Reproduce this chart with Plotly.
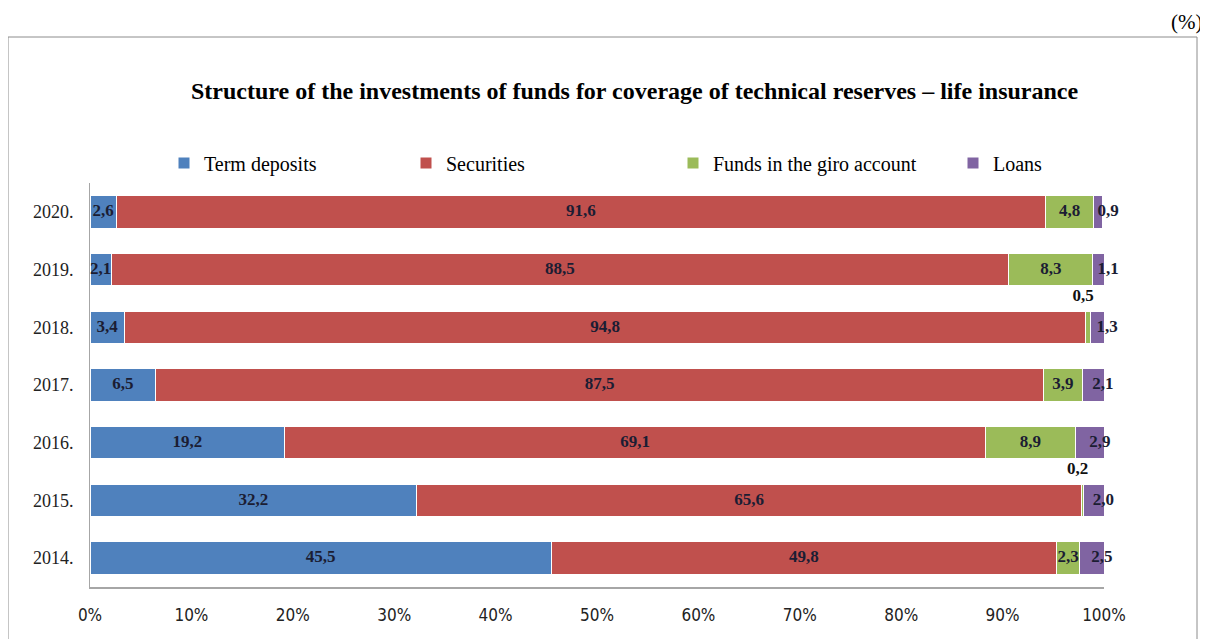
import plotly.graph_objects as go

years = ["2014.", "2015.", "2016.", "2017.", "2018.", "2019.", "2020."]
term_deposits = [45.5, 32.2, 19.2, 6.5, 3.4, 2.1, 2.6]
securities = [49.8, 65.6, 69.1, 87.5, 94.8, 88.5, 91.6]
giro_funds = [2.3, 0.2, 8.9, 3.9, 0.5, 8.3, 4.8]
loans = [2.5, 2.0, 2.9, 2.1, 1.3, 1.1, 0.9]

series_names = ["Term deposits", "Securities", "Funds in the giro account", "Loans"]
series_values = [term_deposits, securities, giro_funds, loans]
colors = ["#4f81bd", "#c0504d", "#9bbb59", "#8064a2"]
tick_vals = [0, 10, 20, 30, 40, 50, 60, 70, 80, 90, 100]
tick_text = [f"{v}%" for v in tick_vals]

OFF = 8  # page body margin
W, H = 1200, 631
L, R, T, B = 90 - OFF, 104, 183 - OFF, 52
pw, ph = W - L - R, H - T - B


def px2paper(px, py):
    fx, fy = px - OFF, py - OFF
    return (fx - L) / pw, (H - B - fy) / ph


fig = go.Figure()
legend_ids = ["legend", "legend2", "legend3", "legend4"]
for name, vals, col, lg in zip(series_names, series_values, colors, legend_ids):
    fig.add_trace(go.Bar(
        y=years, x=vals, name=name, orientation="h",
        marker=dict(color=col, line=dict(color="white", width=1)),
        legend=lg,
    ))

# value labels as text traces
lab_font = "Liberation Serif, Times New Roman, serif"
cum = [0.0] * len(years)
for si, vals in enumerate(series_values):
    xs_in, ys_in, tx_in = [], [], []
    xs_up, ys_up, tx_up = [], [], []
    for i, v in enumerate(vals):
        mid = cum[i] + v / 2
        cum[i] += v
        t = "<b>" + f"{v:.1f}".replace(".", ",") + "</b>"
        if v < 0.8:
            xs_up.append(mid - 0.5)
            ys_up.append(years[i])
            tx_up.append(t + "<br> ")
        elif si == 3:
            xs_in.append(mid - 0.1)
            ys_in.append(years[i])
            tx_in.append(t)
        else:
            xs_in.append(mid)
            ys_in.append(years[i])
            tx_in.append(t)
    fig.add_trace(go.Scatter(x=xs_in, y=ys_in, text=tx_in, mode="text",
                             textposition="middle right" if si == 3 else "middle center",
                             showlegend=False, hoverinfo="skip", cliponaxis=False,
                             textfont=dict(family=lab_font, size=17, color="#1b1d33")))
    if xs_up:
        fig.add_trace(go.Scatter(x=xs_up, y=ys_up, text=tx_up, mode="text",
                                 textposition="top center", showlegend=False, hoverinfo="skip",
                                 cliponaxis=False,
                                 textfont=dict(family=lab_font, size=17, color="#111111")))

annotations = []
tx, ty = px2paper(635, 91)
annotations.append(dict(
    text="<b>Structure of the investments of funds for coverage of technical reserves – life insurance</b>",
    x=tx, y=ty, xref="paper", yref="paper",
    xanchor="center", yanchor="middle", showarrow=False,
    font=dict(family=lab_font, size=24, color="black"),
))
px_, py_ = px2paper(1204, 22)
annotations.append(dict(
    text="(%)", x=px_, y=py_, xref="paper", yref="paper",
    xanchor="right", yanchor="middle", showarrow=False,
    font=dict(family=lab_font, size=21, color="black"),
))

x0, y1 = px2paper(8, 37)
x1, y0 = px2paper(1197, 650)
shapes = [dict(type="rect", xref="paper", yref="paper", x0=x0, x1=x1, y0=y0, y1=y1,
               line=dict(color="#8c8c8c", width=1), fillcolor="rgba(0,0,0,0)", layer="below")]

legend_text_x = [204, 446, 713, 993]
layout_legends = {}
for lg, tx_ in zip(legend_ids, legend_text_x):
    layout_legends[lg] = dict(
        x=(tx_ - 40 - OFF) / W, y=1 - (163 - OFF) / H, xref="container", yref="container",
        xanchor="left", yanchor="middle", orientation="h",
        bgcolor="rgba(0,0,0,0)", borderwidth=0,
        font=dict(family=lab_font, size=20, color="black"),
        itemwidth=30,
    )

fig.update_layout(
    width=W, height=H,
    margin=dict(l=L, r=R, t=T, b=B, autoexpand=False),
    barmode="stack", bargap=0.44,
    paper_bgcolor="white", plot_bgcolor="white",
    showlegend=True,
    xaxis=dict(range=[0, 100], tickvals=tick_vals, ticktext=tick_text,
               showgrid=False, zeroline=False, showline=True, linecolor="#a6a6a6", linewidth=2,
               ticks="", ticklabelstandoff=12,
               tickfont=dict(family="Liberation Sans Narrow, DejaVu Sans Condensed, Arial Narrow, sans-serif",
                             size=17, color="#222222")),
    yaxis=dict(type="category", categoryorder="array", categoryarray=years,
               showgrid=False, zeroline=False, showline=True, linecolor="#a6a6a6", linewidth=1,
               ticks="", ticklabelstandoff=12,
               tickfont=dict(family=lab_font, size=18, color="#222222")),
    annotations=annotations,
    shapes=shapes,
    **layout_legends,
)

fig.write_html("out.html")
